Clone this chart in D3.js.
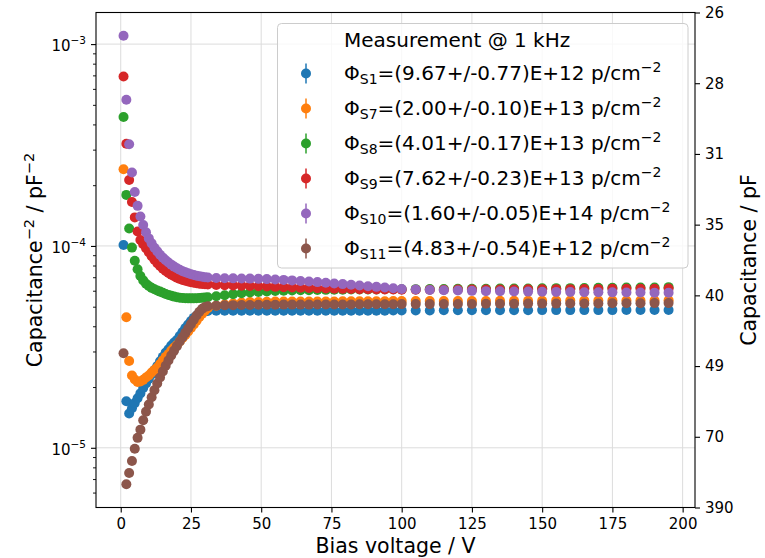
<!DOCTYPE html>
<html><head><meta charset="utf-8">
<script src="https://cdn.jsdelivr.net/npm/d3@7"></script>
<style>
body{margin:0;background:#fff}
text{font-family:"DejaVu Sans",sans-serif;fill:#000}
</style>
</head><body>
<svg id="c" width="765" height="558"></svg>
<script>
// ---------------- data ----------------
const voltages = [1,2,3,4,5,6,7,8,9,10,11,12,13,14,15,16,17,18,19,20,21,22,23,24,25,26,27,28,29,30,
  31,34,37,40,43,46,49,52,55,58,61,64,67,70,73,76,79,82,85,88,91,94,97,100,
  105,110,115,120,125,130,135,140,145,150,155,160,165,170,175,180,185,190,195];

const s1 = [1.01e-4,1.70e-5,1.48e-5,1.57e-5,1.665e-5,1.76e-5,1.86e-5,1.98e-5,2.08e-5,2.19e-5,
  2.31e-5,2.43e-5,2.54e-5,2.68e-5,2.82e-5,2.96e-5,3.08e-5,3.21e-5,3.32e-5,3.42e-5,
  3.58e-5,3.75e-5,3.92e-5,4.08e-5,4.25e-5,4.40e-5,4.52e-5,4.64e-5,4.71e-5,4.74e-5,
  4.76e-5,4.77e-5,4.77e-5,4.78e-5,4.78e-5,4.78e-5,4.78e-5,4.78e-5,4.78e-5,4.78e-5,4.78e-5,4.78e-5,
  4.78e-5,4.78e-5,4.78e-5,4.78e-5,4.78e-5,4.78e-5,4.78e-5,4.78e-5,4.78e-5,4.78e-5,4.79e-5,4.79e-5,
  4.79e-5,4.79e-5,4.80e-5,4.80e-5,4.80e-5,4.80e-5,4.80e-5,4.80e-5,4.80e-5,4.81e-5,
  4.81e-5,4.81e-5,4.81e-5,4.81e-5,4.81e-5,4.82e-5,4.82e-5,4.82e-5,4.82e-5];

const s7 = [2.40e-4,4.43e-5,2.69e-5,2.28e-5,2.18e-5,2.12e-5,2.13e-5,2.17e-5,2.23e-5,2.28e-5,
  2.36e-5,2.43e-5,2.50e-5,2.60e-5,2.71e-5,2.82e-5,2.91e-5,3.03e-5,3.14e-5,3.23e-5,
  3.36e-5,3.50e-5,3.62e-5,3.77e-5,3.92e-5,4.08e-5,4.26e-5,4.45e-5,4.62e-5,4.78e-5,
  4.92e-5,5.05e-5,5.13e-5,5.19e-5,5.24e-5,5.27e-5,5.28e-5,5.29e-5,5.30e-5,5.30e-5,5.30e-5,5.31e-5,
  5.31e-5,5.31e-5,5.31e-5,5.31e-5,5.32e-5,5.32e-5,5.32e-5,5.32e-5,5.32e-5,5.32e-5,5.33e-5,5.33e-5,
  5.33e-5,5.33e-5,5.34e-5,5.34e-5,5.34e-5,5.34e-5,5.35e-5,5.35e-5,5.35e-5,5.35e-5,
  5.36e-5,5.36e-5,5.36e-5,5.36e-5,5.37e-5,5.37e-5,5.37e-5,5.37e-5,5.38e-5];

const s8 = [4.35e-4,1.79e-4,1.22e-4,9.81e-5,8.45e-5,7.66e-5,7.10e-5,6.75e-5,6.50e-5,6.33e-5,
  6.20e-5,6.10e-5,6.02e-5,5.94e-5,5.86e-5,5.78e-5,5.72e-5,5.66e-5,5.61e-5,5.57e-5,
  5.54e-5,5.52e-5,5.51e-5,5.50e-5,5.50e-5,5.50e-5,5.51e-5,5.52e-5,5.53e-5,5.55e-5,
  5.57e-5,5.63e-5,5.70e-5,5.77e-5,5.83e-5,5.88e-5,5.92e-5,5.95e-5,5.98e-5,6.00e-5,6.02e-5,6.03e-5,
  6.04e-5,6.05e-5,6.06e-5,6.07e-5,6.07e-5,6.08e-5,6.08e-5,6.09e-5,6.09e-5,6.10e-5,6.10e-5,6.10e-5,
  6.11e-5,6.12e-5,6.12e-5,6.13e-5,6.14e-5,6.14e-5,6.15e-5,6.16e-5,6.16e-5,6.17e-5,
  6.18e-5,6.18e-5,6.19e-5,6.20e-5,6.21e-5,6.22e-5,6.22e-5,6.23e-5,6.25e-5];

const s9 = [6.91e-4,3.21e-4,2.12e-4,1.65e-4,1.385e-4,1.18e-4,1.07e-4,1.02e-4,9.75e-5,9.30e-5,
  8.90e-5,8.55e-5,8.22e-5,7.95e-5,7.72e-5,7.52e-5,7.35e-5,7.20e-5,7.07e-5,6.96e-5,
  6.87e-5,6.79e-5,6.72e-5,6.66e-5,6.61e-5,6.57e-5,6.53e-5,6.50e-5,6.48e-5,6.46e-5,
  6.44e-5,6.41e-5,6.39e-5,6.37e-5,6.35e-5,6.33e-5,6.31e-5,6.29e-5,6.27e-5,6.25e-5,6.23e-5,6.21e-5,
  6.19e-5,6.17e-5,6.16e-5,6.14e-5,6.13e-5,6.12e-5,6.11e-5,6.10e-5,6.09e-5,6.08e-5,6.08e-5,6.07e-5,
  6.07e-5,6.07e-5,6.07e-5,6.08e-5,6.08e-5,6.08e-5,6.09e-5,6.09e-5,6.10e-5,6.10e-5,
  6.11e-5,6.11e-5,6.12e-5,6.12e-5,6.13e-5,6.13e-5,6.14e-5,6.14e-5,6.15e-5];

const s10 = [1.10e-3,5.30e-4,3.19e-4,2.31e-4,1.85e-4,1.58e-4,1.40e-4,1.27e-4,1.17e-4,1.09e-4,
  1.03e-4,9.80e-5,9.40e-5,9.05e-5,8.75e-5,8.50e-5,8.28e-5,8.08e-5,7.90e-5,7.75e-5,
  7.62e-5,7.50e-5,7.40e-5,7.32e-5,7.25e-5,7.18e-5,7.12e-5,7.07e-5,7.03e-5,7.00e-5,
  6.97e-5,6.94e-5,6.92e-5,6.91e-5,6.90e-5,6.89e-5,6.87e-5,6.85e-5,6.82e-5,6.79e-5,6.75e-5,6.71e-5,
  6.67e-5,6.62e-5,6.57e-5,6.52e-5,6.47e-5,6.42e-5,6.37e-5,6.32e-5,6.27e-5,6.22e-5,6.17e-5,6.12e-5,
  6.08e-5,6.05e-5,6.03e-5,6.01e-5,5.99e-5,5.97e-5,5.96e-5,5.95e-5,5.94e-5,5.93e-5,
  5.92e-5,5.91e-5,5.90e-5,5.90e-5,5.89e-5,5.88e-5,5.88e-5,5.87e-5,5.87e-5];

const s11 = [2.94e-5,6.6e-6,7.5e-6,8.6e-6,9.9e-6,1.12e-5,1.23e-5,1.37e-5,1.51e-5,1.64e-5,
  1.78e-5,1.93e-5,2.08e-5,2.23e-5,2.39e-5,2.55e-5,2.71e-5,2.87e-5,3.03e-5,3.19e-5,
  3.36e-5,3.53e-5,3.71e-5,3.90e-5,4.10e-5,4.31e-5,4.52e-5,4.72e-5,4.88e-5,4.98e-5,
  5.03e-5,5.06e-5,5.08e-5,5.09e-5,5.10e-5,5.10e-5,5.11e-5,5.11e-5,5.11e-5,5.12e-5,5.12e-5,5.12e-5,
  5.12e-5,5.13e-5,5.13e-5,5.13e-5,5.13e-5,5.13e-5,5.14e-5,5.14e-5,5.14e-5,5.14e-5,5.14e-5,5.15e-5,
  5.15e-5,5.15e-5,5.16e-5,5.16e-5,5.16e-5,5.17e-5,5.17e-5,5.17e-5,5.18e-5,5.18e-5,
  5.18e-5,5.19e-5,5.19e-5,5.19e-5,5.20e-5,5.20e-5,5.20e-5,5.21e-5,5.21e-5];

const seriesValues = [s1, s7, s8, s9, s10, s11];
const seriesSubs = ["S1","S7","S8","S9","S10","S11"];
const seriesFluence = ["(9.67+/-0.77)E+12","(2.00+/-0.10)E+13","(4.01+/-0.17)E+13",
                       "(7.62+/-0.23)E+13","(1.60+/-0.05)E+14","(4.83+/-0.54)E+12"];
const colors = ["#1f77b4","#ff7f0e","#2ca02c","#d62728","#9467bd","#8c564b"];

const xTicks = [0,25,50,75,100,125,150,175,200];
const yMajorExp = [-3,-4,-5];
const yMinor = [6e-6,7e-6,8e-6,9e-6,2e-5,3e-5,4e-5,5e-5,6e-5,7e-5,8e-5,9e-5,
                2e-4,3e-4,4e-4,5e-4,6e-4,7e-4,8e-4,9e-4];
const rightTickLabels = ["390","70","49","40","35","31","28","26"];
const legendTitle = "Measurement @ 1 kHz";

// ---------------- layout ----------------
const L = 96, R = 695, T = 12.5, B = 507.5;
const DOT_R = 5;
const svg = d3.select("#c");
const x = d3.scaleLinear().domain([-8.8, 204.4]).range([L, R]);
const y = d3.scaleLog().domain([5.06e-6, 1.434e-3]).range([B, T]);
const yR = d3.scaleLinear().domain([0, rightTickLabels.length - 1]).range([B, T]);

svg.append("rect").attr("width",765).attr("height",558).attr("fill","#fff");

// grid
const grid = svg.append("g").attr("stroke","#dcdcdc").attr("stroke-width",1);
grid.selectAll("line.gx").data(xTicks).join("line")
  .attr("x1",d=>x(d)).attr("x2",d=>x(d)).attr("y1",T).attr("y2",B);
grid.selectAll("line.gy").data(yMajorExp).join("line")
  .attr("x1",L).attr("x2",R).attr("y1",d=>y(Math.pow(10,d))).attr("y2",d=>y(Math.pow(10,d)));

// data points
seriesValues.forEach((vals, k) => {
  svg.append("g").selectAll("circle")
    .data(voltages.map((v,i)=>[v, vals[i]]))
    .join("circle")
    .attr("cx", d=>x(d[0])).attr("cy", d=>y(d[1])).attr("r", DOT_R)
    .attr("fill", colors[k]);
});

// axes
function styleAxis(g, fs){
  g.select(".domain").remove();
  g.selectAll(".tick line").attr("stroke","#000").attr("stroke-width",1.1);
  g.selectAll(".tick text").attr("font-size",fs).attr("fill","#000")
    .attr("font-family","DejaVu Sans");
}
const gx = svg.append("g").attr("transform",`translate(0,${B})`)
  .call(d3.axisBottom(x).tickValues(xTicks).tickSize(5).tickPadding(6).tickFormat(d3.format("d")));
styleAxis(gx, 15);

const gyMin = svg.append("g").attr("transform",`translate(${L},0)`)
  .call(d3.axisLeft(y).tickValues(yMinor).tickSize(3).tickFormat(""));
styleAxis(gyMin, 15);
gyMin.selectAll(".tick line").attr("stroke-width",0.9);

const gy = svg.append("g").attr("transform",`translate(${L},0)`)
  .call(d3.axisLeft(y).tickValues(yMajorExp.map(e=>Math.pow(10,e))).tickSize(5).tickPadding(5).tickFormat(""));
styleAxis(gy, 15);
gy.selectAll(".tick text").each(function(d, i){
  const t = d3.select(this);
  t.text(null).attr("dy","0.45em");
  t.append("tspan").text("10");
  t.append("tspan").attr("dy",-7).attr("font-size",10.5).text("\u2212" + Math.abs(yMajorExp[i]));
});

const gr = svg.append("g").attr("transform",`translate(${R},0)`)
  .call(d3.axisRight(yR).tickValues(d3.range(rightTickLabels.length)).tickSize(5).tickPadding(5)
        .tickFormat(i=>rightTickLabels[i]));
styleAxis(gr, 15);

// spines
svg.append("rect").attr("x",L).attr("y",T).attr("width",R-L).attr("height",B-T)
  .attr("fill","none").attr("stroke","#000").attr("stroke-width",1.1);

// axis labels
svg.append("text").attr("x",(L+R)/2).attr("y",553).attr("text-anchor","middle")
  .attr("font-size",20.5).text("Bias voltage / V");

const yl = svg.append("text").attr("transform",`translate(42,${(T+B)/2}) rotate(-90)`)
  .attr("text-anchor","middle").attr("font-size",20.5);
yl.append("tspan").text("Capacitance");
yl.append("tspan").attr("dy",-8).attr("font-size",14.5).text("\u22122");
yl.append("tspan").attr("dy",8).text(" / pF");
yl.append("tspan").attr("dy",-8).attr("font-size",14.5).text("\u22122");

svg.append("text").attr("transform",`translate(756,${(T+B)/2}) rotate(-90)`)
  .attr("text-anchor","middle").attr("font-size",20.5).text("Capacitance / pF");

// legend
const lg = svg.append("g");
lg.append("rect").attr("x",277.5).attr("y",23.5).attr("width",410.5).attr("height",244.5)
  .attr("rx",4).attr("fill","#fff").attr("fill-opacity",0.8)
  .attr("stroke","#cccccc").attr("stroke-width",1);
lg.append("text").attr("x",344).attr("y",47.3).attr("font-size",20).text(legendTitle);
seriesSubs.forEach((s, k) => {
  const by = 80 + k * 35;
  const cy = by - 6.5;
  lg.append("line").attr("x1",306).attr("x2",306).attr("y1",cy-10).attr("y2",cy+10)
    .attr("stroke",colors[k]).attr("stroke-width",1.5);
  lg.append("circle").attr("cx",306).attr("cy",cy).attr("r",DOT_R).attr("fill",colors[k]);
  const t = lg.append("text").attr("x",344).attr("y",by).attr("font-size",20);
  t.append("tspan").text("\u03A6");
  t.append("tspan").attr("dy",4).attr("font-size",14).text(s);
  t.append("tspan").attr("dy",-4).text("=" + seriesFluence[k] + " p/cm");
  t.append("tspan").attr("dy",-8).attr("font-size",14).text("\u22122");
});
</script>
</body></html>
